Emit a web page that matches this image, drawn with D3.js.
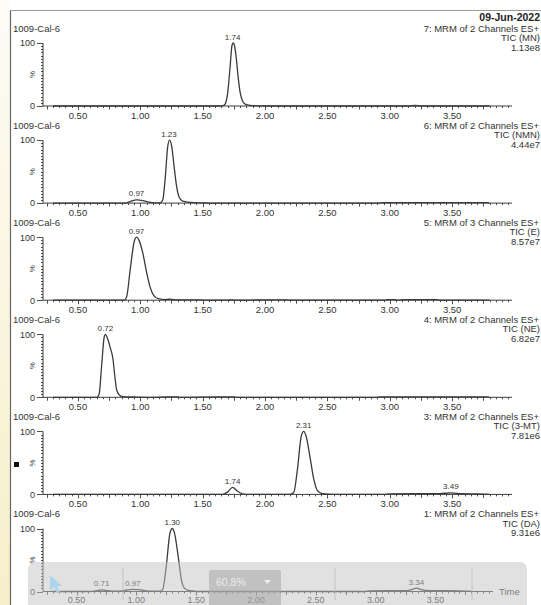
<!DOCTYPE html>
<html>
<head>
<meta charset="utf-8">
<script src="https://cdn.jsdelivr.net/npm/d3@7"></script>
<style>
  body { margin: 0; background: #fff; }
  svg { display: block; font-family: "Liberation Sans", Arial, sans-serif; }
</style>
</head>
<body>
<div id="chart"></div>
<script>
// sample + header text
const sampleName = "1009-Cal-6";
const runDate = "09-Jun-2022";
const channels = ["7: MRM of 2 Channels ES+", "6: MRM of 2 Channels ES+", "5: MRM of 3 Channels ES+",
  "4: MRM of 2 Channels ES+", "3: MRM of 2 Channels ES+", "1: MRM of 2 Channels ES+"];
const ticNames = ["TIC (MN)", "TIC (NMN)", "TIC (E)", "TIC (NE)", "TIC (3-MT)", "TIC (DA)"];
const intensities = ["1.13e8", "4.44e7", "8.57e7", "6.82e7", "7.81e6", "9.31e6"];

const xTickLabels = ["0.50", "1.00", "1.50", "2.00", "2.50", "3.00", "3.50"];
const yTickLabels = ["0", "100"];

// traces: [time (min), % of max]
const traceMN = [[0.30,0],[1.60,0],[1.66,0.3],[1.68,3],[1.70,20],[1.72,62],[1.735,96],[1.745,100],[1.755,96],[1.77,75],[1.785,45],[1.80,22],[1.82,8],[1.84,3],[1.88,1],[1.95,0.3],[2.05,0],[3.15,0],[3.20,0.8],[3.26,0],[3.80,0]];
const traceNMN = [[0.30,0],[0.88,0],[0.92,2.5],[0.97,5],[1.02,4],[1.07,1.5],[1.12,0.5],[1.16,0.5],[1.18,5],[1.20,40],[1.22,90],[1.235,100],[1.25,92],[1.27,60],[1.29,28],[1.31,10],[1.34,3],[1.40,1],[1.50,0.3],[1.55,0],[2.90,0],[2.95,0.8],[3.78,0.8],[3.80,0]];
const traceE = [[0.30,0],[0.87,0],[0.89,5],[0.92,50],[0.95,92],[0.97,100],[0.99,95],[1.02,75],[1.05,45],[1.08,20],[1.11,7],[1.15,2],[1.20,1],[1.23,1.5],[1.27,1],[1.35,0.6],[1.49,0.5],[1.52,0],[1.70,0],[1.73,0.6],[1.76,0],[2.00,0.5],[2.18,0.5],[2.20,0],[2.96,0],[2.98,0.8],[3.04,0.8],[3.06,0],[3.13,0.8],[3.37,0.8],[3.40,0],[3.80,0]];
const traceNE = [[0.30,0],[0.65,0],[0.67,5],[0.69,50],[0.71,95],[0.72,100],[0.74,92],[0.76,78],[0.78,62],[0.795,35],[0.81,12],[0.83,4],[0.86,1],[0.95,0.5],[1.10,0],[1.22,0.6],[1.30,0.6],[1.32,0],[1.62,0.6],[1.75,0.6],[1.77,0],[2.90,0],[2.92,0.8],[3.78,0.8],[3.80,0]];
const trace3MT = [[0.30,0],[1.66,0],[1.70,4],[1.74,11],[1.78,5],[1.82,1],[1.86,0],[2.20,0],[2.23,3],[2.26,40],[2.29,92],[2.31,100],[2.33,92],[2.36,60],[2.39,25],[2.42,6],[2.46,1],[2.55,0],[2.95,0],[3.00,0.8],[3.20,1.2],[3.40,1.2],[3.49,2.5],[3.58,1],[3.70,0.6],[3.80,0]];
const traceDA = [[0.30,0],[0.62,0],[0.67,1.5],[0.71,2.5],[0.76,1.5],[0.82,0.5],[0.90,1.5],[0.97,3.5],[1.04,2.5],[1.10,0.5],[1.20,0.5],[1.22,3],[1.25,40],[1.28,92],[1.30,100],[1.32,92],[1.35,55],[1.38,15],[1.41,4],[1.46,0.8],[1.55,0],[2.90,0],[2.95,1],[3.25,1.5],[3.30,3],[3.34,5.5],[3.38,3],[3.45,1.5],[3.70,1],[3.78,0.5],[3.80,0]];

// labelled peaks: [time, %]
const peaksMN = [[1.74,100]];
const peaksNMN = [[0.97,5],[1.23,100]];
const peaksE = [[0.97,100]];
const peaksNE = [[0.72,100]];
const peaks3MT = [[1.74,11],[2.31,100],[3.49,2.5]];
const peaksDA = [[0.71,2.5],[0.97,3.5],[1.30,100],[3.34,5.5]];

const traces = [traceMN, traceNMN, traceE, traceNE, trace3MT, traceDA];
const peaks = [peaksMN, peaksNMN, peaksE, peaksNE, peaks3MT, peaksDA];

const W = 541, H = 605;
const svg = d3.select("#chart").append("svg")
    .attr("width", W)
    .attr("height", H);

// page background: pale yellow strip on the left, frame lines
const grad = svg.append("defs").append("linearGradient")
    .attr("id", "strip").attr("x1", 0).attr("y1", 0).attr("x2", 0).attr("y2", 1);
grad.append("stop").attr("offset", "0%").attr("stop-color", "#fdfcf6");
grad.append("stop").attr("offset", "100%").attr("stop-color", "#f7efc9");
svg.append("rect").attr("x", 0).attr("y", 0).attr("width", 10).attr("height", H).attr("fill", "url(#strip)");
svg.append("line").attr("x1", 10.5).attr("x2", 10.5).attr("y1", 10).attr("y2", H)
    .attr("stroke", "#666").attr("stroke-width", 1.2);
svg.append("line").attr("x1", 10).attr("x2", W).attr("y1", 10.5).attr("y2", 10.5)
    .attr("stroke", "#999").attr("stroke-width", 1.2);
svg.append("rect").attr("x", 14).attr("y", 462).attr("width", 5).attr("height", 5).attr("fill", "#111");

const textColor = "#333";
const axisColor = "#3c3c3c";

svg.append("text")
    .attr("x", 540).attr("y", 20.5)
    .attr("text-anchor", "end")
    .attr("font-size", 10.5).attr("font-weight", "bold")
    .attr("fill", "#222")
    .text(runDate);

const line = d3.line().curve(d3.curveMonotoneX);

traces.forEach((trace, i) => {
  const base = 106 + 97.1 * i;
  const last = i === traces.length - 1;
  const x = d3.scaleLinear().domain([0.22, 3.98]).range([43, last ? 493 : 512]);
  const y = d3.scaleLinear().domain([0, 100]).range([base, base - 63]);
  const g = svg.append("g");

  // header texts
  g.append("text").attr("x", 13).attr("y", base - 74.5)
      .attr("font-size", 9.5).attr("fill", textColor).text(sampleName);
  g.append("text").attr("x", 539).attr("y", base - 74.5).attr("text-anchor", "end")
      .attr("font-size", 9.5).attr("fill", textColor).text(channels[i]);
  g.append("text").attr("x", 540).attr("y", base - 65).attr("text-anchor", "end")
      .attr("font-size", 9.5).attr("fill", textColor).text(ticNames[i]);
  g.append("text").attr("x", 540).attr("y", base - 55.5).attr("text-anchor", "end")
      .attr("font-size", 9.5).attr("fill", textColor).text(intensities[i]);

  // y axis
  g.append("line").attr("x1", x.range()[0]).attr("x2", x.range()[0])
      .attr("y1", y(100)).attr("y2", y(0)).attr("stroke", axisColor);
  d3.range(0, 101, 5).forEach(v => {
    const major = v === 0 || v === 100;
    g.append("line").attr("x1", x.range()[0] - (major ? 6 : 2)).attr("x2", x.range()[0])
        .attr("y1", Math.round(y(v)) + 0.5).attr("y2", Math.round(y(v)) + 0.5)
        .attr("stroke", axisColor).attr("stroke-width", 0.9);
  });
  yTickLabels.forEach(t => {
    g.append("text").attr("x", 35).attr("y", y(+t) + 3.3).attr("text-anchor", "end")
        .attr("font-size", 9).attr("fill", textColor).text(t);
  });
  g.append("text").attr("transform", `translate(34.5,${y(50)}) rotate(-90)`)
      .attr("text-anchor", "middle").attr("font-size", 8).attr("fill", textColor).text("%");

  // x axis
  g.append("line").attr("x1", x.range()[0]).attr("x2", x.range()[1])
      .attr("y1", base).attr("y2", base).attr("stroke", axisColor);
  d3.range(5, 400, 5).map(v => v / 100).filter(v => v >= 0.23 && v <= 3.97).forEach(v => {
    const k = Math.round(v * 100);
    const len = k % 50 === 0 ? 4 : (k % 25 === 0 ? 3.5 : 2);
    g.append("line").attr("x1", Math.round(x(v)) + 0.5).attr("x2", Math.round(x(v)) + 0.5)
        .attr("y1", base).attr("y2", base + len)
        .attr("stroke", axisColor).attr("stroke-width", 0.9);
  });
  xTickLabels.forEach(t => {
    g.append("text").attr("x", x(+t)).attr("y", base + (last ? 11 : 12.5)).attr("text-anchor", "middle")
        .attr("font-size", last ? 9 : 9.5).attr("fill", textColor).text(t);
  });
  if (last) {
    g.append("text").attr("x", 499).attr("y", base + 3.5)
        .attr("font-size", 9.5).attr("fill", textColor).text("Time");
  }

  // trace
  g.append("path")
      .attr("d", line(trace.map(d => [x(d[0]), y(d[1])])))
      .attr("fill", "none").attr("stroke", "#3a3a3a").attr("stroke-width", 1.3)
      .attr("stroke-linejoin", "round");

  // peak labels
  peaks[i].forEach(p => {
    g.append("text").attr("x", x(p[0])).attr("y", y(p[1]) - 3.5).attr("text-anchor", "middle")
        .attr("font-size", 8).attr("fill", textColor).text(p[0].toFixed(2));
  });
});

// viewer toolbar overlay at the bottom
const bar = svg.append("g");
bar.append("rect").attr("x", 28).attr("y", 562).attr("width", 499).attr("height", 60).attr("rx", 7)
    .attr("fill", "#c4c4c4").attr("opacity", 0.5);
[123, 335, 472].forEach(sx => {
  bar.append("line").attr("x1", sx).attr("x2", sx).attr("y1", 568).attr("y2", 600)
      .attr("stroke", "#b8b8b8").attr("opacity", 0.7);
});
bar.append("rect").attr("x", 209).attr("y", 570).attr("width", 72).attr("height", 40).attr("rx", 2)
    .attr("fill", "#a8a8a8").attr("opacity", 0.55);
bar.append("text").attr("x", 216).attr("y", 586).attr("font-size", 10.5)
    .attr("fill", "#ececec").text("60.8%");
bar.append("path").attr("d", "M264,580 L271,580 L267.5,584 Z").attr("fill", "#ececec");
bar.append("path")
    .attr("d", "M50,575 L50,591 L54,587 L57,593 L60,592 L57,586 L62,586 Z")
    .attr("fill", "#a8d5ec").attr("opacity", 0.9);
</script>
</body>
</html>
